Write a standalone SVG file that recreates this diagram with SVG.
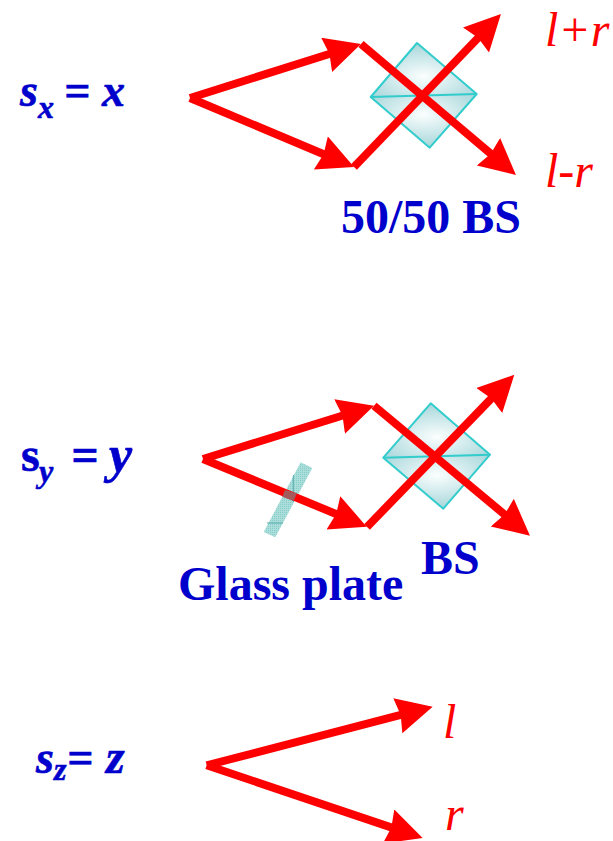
<svg xmlns="http://www.w3.org/2000/svg" width="613" height="841" viewBox="0 0 613 841">
<style>
.ray{fill:none;stroke:#f00;stroke-width:8}
.head{marker-end:url(#ah)}
.edge{stroke:#33cccc;stroke-width:2;stroke-linejoin:round}
.lbl{font-family:"Liberation Serif","Times New Roman",serif;font-weight:bold;font-size:48px;fill:#0000cc}
.eq{font-family:"Liberation Serif","Times New Roman",serif;font-weight:bold;font-style:italic;font-size:46px;fill:#0000cc;stroke:#0000cc;stroke-width:.6}
.sub{font-size:32px}
.out{font-family:"Liberation Serif","Times New Roman",serif;font-style:italic;font-size:48px;fill:#f00}
</style>
<defs>
<marker id="ah" markerUnits="userSpaceOnUse" markerWidth="40" markerHeight="40" refX="16" refY="18" orient="auto">
<path d="M0,0 L36,18 L0,36 L3,18 Z" fill="#f00"/>
</marker>
<radialGradient id="glow" cx="0.5" cy="0.62" r="0.62">
<stop offset="0" stop-color="#fbfefe"/>
<stop offset="1" stop-color="#a6d6da"/>
</radialGradient>
<radialGradient id="glow2" cx="0.5" cy="0.38" r="0.62">
<stop offset="0" stop-color="#fbfefe"/>
<stop offset="1" stop-color="#a6d6da"/>
</radialGradient>
<pattern id="dots" width="2" height="2" patternUnits="userSpaceOnUse">
<rect width="2" height="2" fill="#abdedb"/>
<rect width="1" height="1" fill="#86cdc9"/>
</pattern>
</defs>
<g id="cube-x">
<polygon points="417,43 476.7,94 370.7,97" fill="url(#glow)"/>
<polygon points="476.7,94 429.7,147.7 370.7,97" fill="url(#glow2)"/>
<polygon class="edge" points="417,43 476.7,94 429.7,147.7 370.7,97" fill="none"/>
<line class="edge" x1="370.7" y1="97" x2="476.7" y2="94"/>
</g>
<g id="cube-y">
<polygon points="430.7,403.3 490,454.7 383.3,457.7" fill="url(#glow)"/>
<polygon points="490,454.7 443.3,508.7 383.3,457.7" fill="url(#glow2)"/>
<polygon class="edge" points="430.7,403.3 490,454.7 443.3,508.7 383.3,457.7" fill="none"/>
<line class="edge" x1="383.3" y1="457.7" x2="490" y2="454.7"/>
</g>
<g id="glass-plate">
<polygon points="300.7,462.3 312.3,468 275.3,537.3 263.7,532" fill="url(#dots)"/>
<path d="M293.300,475 V502 M267,523 H283" stroke="#55aaaa" stroke-width="1" fill="none"/>
</g>
<g id="connectors">
<path class="ray head" d="M190,98 L341.9,50"/>
<path class="ray head" d="M190,98 L335.6,159.2"/>
<path class="ray head" d="M354,167 L487.1,28.4"/>
<path class="ray head" d="M361,44 L500.7,162.1"/>
<path class="ray head" d="M203,459 L354.9,411.7"/>
<path class="ray head" d="M203,459 L348.2,519"/>
<path class="ray head" d="M367,527 L500.4,389.1"/>
<path class="ray head" d="M374,405.7 L514.6,522.9"/>
<path class="ray head" d="M206.7,765.3 L413.3,711.7"/>
<path class="ray head" d="M206.7,765.3 L403.7,831.6"/>
</g>
<polygon id="plate-overlap" points="285,490 297,493.300 293.500,501 282.300,496.700" fill="#a45a5a"/>
<g id="label-sx"><text class="eq" x="20" y="106">s<tspan class="sub" x="38" y="118">x</tspan><tspan x="64" y="106">=</tspan><tspan x="102" y="106">x</tspan></text></g>
<g id="label-sy"><text class="eq" x="21" y="471" style="font-size:48px"><tspan font-style="normal">s</tspan><tspan class="sub" x="39" y="482">y</tspan><tspan x="71" y="471">=</tspan><tspan x="109" y="472" style="font-size:52px">y</tspan></text></g>
<g id="label-sz"><text class="eq" x="36" y="773">s<tspan class="sub" x="54" y="780">z</tspan><tspan x="67" y="773">=</tspan><tspan x="106" y="773" style="font-size:48px">z</tspan></text></g>
<g id="label-bs1"><text class="lbl" x="341" y="233">50/50 BS</text></g>
<g id="label-bs2"><text class="lbl" x="421" y="574">BS</text></g>
<g id="label-glass"><text class="lbl" x="178" y="600">Glass plate</text></g>
<g id="label-lpr"><text class="out" x="545" y="46">l+r</text></g>
<g id="label-lmr"><text class="out" x="545" y="187">l-r</text></g>
<g id="label-l"><text class="out" x="443" y="738">l</text></g>
<g id="label-r"><text class="out" x="445" y="830">r</text></g>
</svg>
